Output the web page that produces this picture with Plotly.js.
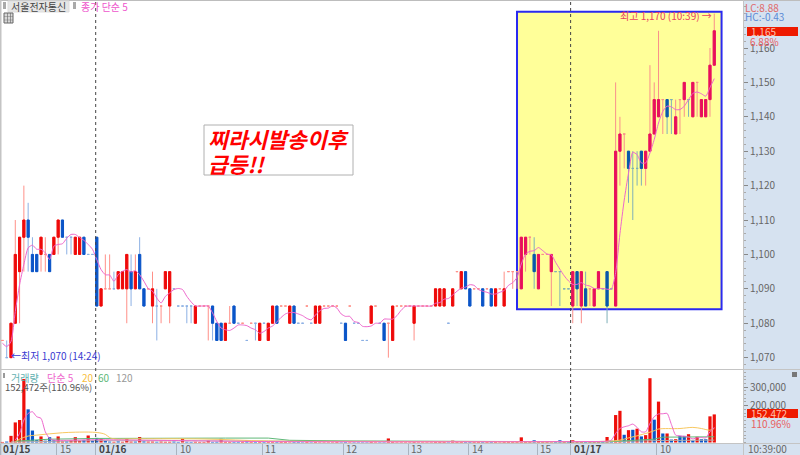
<!DOCTYPE html>
<html><head><meta charset="utf-8">
<script src="https://cdn.plot.ly/plotly-3.0.1.min.js"></script>
<style>html,body{margin:0;padding:0;background:#fff;overflow:hidden}#c{width:800px;height:455px}</style>
</head><body><div id="c"></div>
<script>
const firstIndex = -2;
const openP = [1075,1070,
1070,1080,1095,1105,1110,1100,1100,1100,1100,1100,
1100,1105,1110,1105,1105,1100,1100,1105,1100,1100,
1105,1085,1090,1090,1090,1090,1090,1090,1095,1090,
1100,1090,1090,1085,1085,1085,1090,1085,1090,1085,
1085,1085,1085,1080,1085,1085,1085,1085,1080,1080,
1075,1080,1085,1080,1080,1075,1080,1080,1075,1080,
1075,1080,1085,1085,1085,1080,1085,1080,1080,1085,
1080,1080,1080,1085,1085,1085,1085,1080,1080,1085,
1080,1080,1075,1075,1080,1085,1080,1080,1080,1075,
1085,1085,1085,1085,1080,1085,1085,1085,1085,1085,
1085,1085,1080,1085,1095,1090,1095,1090,1090,1090,
1090,1090,1090,1085,1090,1085,1095,1095,1095,1090,
1100,1105,1100,1090,1100,1100,1095,1095,1095,1090,
1090,1085,1095,1085,1090,1090,1085,1090,1090,1095,
1090,1085,1130,1135,1130,1125,1125,1130,1125,1130,
1135,1140,1145,1145,1145,1135,1145,1145,1145,1140,
1150,1140,1140,1145,1155];
const highP = [1075,1075,
1080,1110,1105,1120,1115,1105,1100,1105,1105,1100,
1105,1110,1110,1105,1105,1105,1105,1105,1100,1100,
1105,1090,1100,1100,1095,1095,1095,1100,1100,1100,
1105,1090,1090,1095,1090,1085,1095,1095,1090,1085,
1085,1085,1085,1085,1085,1085,1085,1085,1080,1080,
1080,1085,1085,1080,1080,1075,1080,1080,1080,1080,
1080,1085,1085,1085,1085,1085,1085,1080,1080,1085,
1080,1085,1085,1085,1085,1085,1085,1080,1080,1085,
1080,1080,1075,1075,1085,1085,1080,1080,1080,1085,
1085,1085,1085,1085,1085,1085,1085,1085,1085,1090,
1090,1090,1080,1090,1095,1095,1095,1090,1090,1090,
1090,1090,1090,1090,1090,1095,1095,1095,1095,1105,
1105,1105,1105,1100,1100,1100,1100,1095,1095,1090,
1090,1095,1095,1095,1095,1090,1090,1095,1090,1095,
1090,1150,1140,1135,1130,1130,1130,1130,1130,1155,
1150,1165,1145,1145,1145,1145,1145,1150,1145,1150,
1150,1145,1145,1160,1170];
const lowP = [1075,1070,
1070,1080,1080,1095,1095,1095,1095,1095,1095,1095,
1100,1100,1105,1100,1100,1100,1100,1100,1100,1100,
1085,1085,1090,1090,1090,1090,1090,1080,1085,1090,
1090,1085,1090,1080,1075,1080,1090,1080,1090,1085,
1085,1080,1080,1080,1085,1085,1075,1075,1075,1075,
1075,1080,1080,1080,1080,1075,1080,1075,1075,1080,
1075,1080,1080,1085,1085,1080,1080,1080,1080,1085,
1080,1080,1080,1085,1085,1085,1085,1080,1075,1085,
1080,1080,1075,1075,1080,1085,1080,1075,1070,1075,
1085,1085,1085,1085,1075,1085,1085,1085,1085,1085,
1085,1085,1080,1085,1095,1090,1090,1085,1090,1090,
1085,1090,1085,1085,1090,1085,1095,1090,1090,1090,
1095,1100,1090,1090,1100,1100,1085,1095,1085,1090,
1090,1080,1085,1080,1085,1085,1085,1090,1090,1080,
1090,1085,1120,1125,1115,1110,1120,1120,1120,1130,
1135,1140,1135,1135,1135,1135,1135,1140,1140,1140,
1140,1140,1140,1140,1155];
const closeP = [1075,1070,
1080,1100,1105,1110,1105,1095,1095,1105,1100,1095,
1105,1110,1105,1105,1105,1105,1105,1100,1100,1100,
1085,1090,1090,1090,1090,1095,1095,1100,1090,1095,
1090,1085,1090,1090,1085,1085,1095,1095,1090,1085,
1085,1085,1085,1085,1085,1085,1085,1080,1075,1075,
1080,1080,1080,1080,1080,1075,1080,1080,1080,1080,
1080,1085,1080,1085,1085,1085,1080,1080,1080,1085,
1080,1085,1085,1085,1085,1085,1085,1080,1075,1085,
1080,1080,1075,1075,1085,1085,1080,1075,1080,1085,
1085,1085,1085,1085,1085,1085,1085,1085,1085,1090,
1090,1090,1080,1090,1095,1095,1090,1085,1090,1090,
1085,1090,1085,1090,1090,1090,1095,1095,1095,1105,
1105,1105,1095,1100,1100,1100,1100,1095,1095,1090,
1090,1095,1090,1095,1085,1090,1090,1095,1090,1085,
1090,1130,1135,1135,1125,1125,1125,1125,1130,1135,
1145,1145,1145,1140,1145,1140,1145,1150,1145,1150,
1150,1145,1145,1155,1165];
const candleDir = ["rb",
"rrrrbbbrrb","rrbbbrrbbb","brrrbrrrbr","bbrrbrrrbb","bbbrrrrbbb",
"rrbbrbrbrb","rrbrrrbbbr","brrrrrrbbr","bbbbrrbbrr","rrrrrrrrrr",
"rrbrrrbbrr","brbrrrrrrr","rrbrrrrbbb","brbrbrrrbb","brrrbbbbrr",
"rrrbbrrrbr","rrrrr"].join("");
const priceMA = [1074.2,1073.2,
1074.7,1083.4,1091.2,1097.1,1101.9,1102.7,1101.5,1101.5,1100.5,1098.5,
1102.4,1102.9,1103.1,1104.7,1105.8,1105.8,1104.9,1104.1,1102.9,1101.5,
1098.5,1095.6,1094.1,1094,1092.2,1094.1,1095.1,1095.6,1094.9,1095.3,
1094.1,1092.2,1090.1,1089.3,1087.3,1085.9,1087.8,1088.8,1089.8,1090.1,
1089.8,1087.8,1086.2,1085,1085,1085,1085,1083,1080.5,1078.6,
1078.1,1077.9,1078.6,1079.5,1079.5,1079.3,1078.6,1078.1,1077.1,1077.6,
1078.6,1079.2,1080.4,1081.7,1082.7,1083.1,1083.1,1082.7,1082.2,1081.4,
1081,1082.4,1083.6,1084.3,1084.4,1085.1,1084.4,1082.7,1082,1082,
1080.5,1080.2,1079.1,1079,1079.2,1080,1080,1081.2,1081.2,1081.2,
1082.2,1083.8,1084.9,1085,1085,1085,1085,1085,1085,1085.8,
1086,1087,1087.2,1088.2,1089.3,1090.2,1090.5,1091.2,1091,1089.8,
1089.3,1089,1088.5,1088.5,1089,1089.5,1091,1091.8,1093.3,1097.2,
1100.1,1100.9,1101.1,1102,1101.1,1100.1,1099.9,1097.7,1095.7,1093.8,
1092.3,1091.3,1091.3,1091.8,1091.1,1090.8,1090.1,1090.1,1090.1,1089.9,
1089.9,1094.7,1106,1115.8,1123.6,1129.7,1129,1126.6,1126.6,1129.5,
1133.4,1138.2,1141.6,1143.1,1142.9,1142.1,1142.1,1143.1,1145,1146.8,
1147.2,1146.7,1146,1148.5,1151.1];
const volume = [3000,5000,
36000,109000,122000,345000,180000,65000,13000,33000,10000,29000,
12000,33000,6000,6000,12000,29000,10000,14000,38000,10000,
25000,20000,10000,5000,4000,6000,4000,20000,5000,5000,
30000,6000,5000,5000,4000,5000,4000,4000,5000,3000,
20000,4000,3000,4000,3000,3000,10000,3000,4000,20000,
4000,3000,3000,3000,4000,12000,3000,4000,3000,3000,
4000,3000,3000,3000,3000,2000,3000,3000,2000,3000,
2000,3000,2000,2000,2000,2000,3000,2000,3000,2000,
2000,2000,2000,2000,3000,2000,2000,2000,22000,3000,
2000,2000,2000,2000,3000,2000,2000,2000,2000,3000,
3000,3000,2000,10000,3000,3000,4000,4000,3000,3000,
4000,3000,3000,3000,2000,3000,3000,3000,3000,28000,
3000,3000,12000,3000,3000,3000,2000,3000,12000,3000,
3000,12000,3000,3000,3000,3000,3000,3000,3000,30000,
10000,149000,172000,42000,67000,69000,75000,33000,40000,349000,
124000,222000,49000,49000,16000,18000,36000,36000,45000,11000,
31000,18000,18000,142000,152472];
const volDir = ["rb",
"rrrrbbbrbb","brrbrrrbrb","brbbrbrrrb","rbrrbrrrbb","rbbrrrrbbr",
"rrbbrbrbrb","rrbrrrbbbr","brrrrrrbbr","bbbbrrbbrr","rrrrrrrrrr",
"rrbrrrbbrr","brbrrrrrrr","rrbrrrrbbr","brrrbrrrbr","brrbrbrbrr",
"brbrbrbbrb","rbbrr"].join("");
const volMA5X = [1,2,3,4,5,6,7,8,9,10,20,60,100,130,139,140,141,142,143,144,145,146,147,148,149,150,151,152,153,154,155,156,157,158,159,160,161,162,163,164];
const volMA5Y = [13000,49000,122000,158000,167000,140000,131000,58000,22000,13000,15000,5000,4000,5000,7000,13000,49000,76000,85000,91000,100000,82000,58000,58000,104000,140000,155000,156000,158000,98000,40000,36000,33000,29000,20000,25000,27000,25000,58000,82000];
const volMA20X = [1,2,4,6,9,12,15,19,21,22,23,24,30,45,60,80,100,130,139,142,144,146,148,150,151,156,159,161,163,164];
const volMA20Y = [3000,18000,35000,40000,47000,53000,56000,56000,51000,44000,27000,20000,20000,19000,8000,6000,5000,5000,7000,13000,25000,36000,49000,64000,73000,76000,82000,76000,67000,76000];
const volMA60X = [1,9,20,30,50,60,63,65,80,100,130,139,150,152,164];
const volMA60Y = [7000,18000,22000,24000,24000,24000,16000,12000,8000,6000,4000,4000,18000,29000,31000];
const volMA120X = [0,20,60,100,139,152,164];
const volMA120Y = [3000,10000,8000,5000,4000,11000,13000];
const priceTicks = [1070,1080,1090,1100,1110,1120,1130,1140,1150,1160];
const priceTickText = ["1,070","1,080","1,090","1,100","1,110","1,120","1,130","1,140","1,150","1,160"];
const volTicks = [200000,300000];
const volTickText = ["200,000","300,000"];
const timeTickPos = [-2.5,10.66,19.75,38.65,58.6,77.5,92.65,106.7,122.7,130.5,150.6];
const timeTickText = ["01/15","15","01/16","10","11","12","13","14","15","01/17","10"];
const dayMarkers = [19.75,130.5];

const W=800,H=455;
const fx=p=>p/W, fy=p=>1-p/H;
const FONT='"Noto Sans CJK KR","Noto Sans",sans-serif';
const boxFrom=118;
const idx=openP.map((_,i)=>i+firstIndex);

function candles(inBox,dirChar,wickCol,bodyCol){
  const sel=idx.map((_,i)=>i).filter(i=>candleDir[i]===dirChar && ((idx[i]>=boxFrom)===inBox));
  const base={type:'candlestick',xaxis:'x',yaxis:'y',hoverinfo:'skip',showlegend:false,whiskerwidth:0};
  const wick=Object.assign({},base,{x:sel.map(i=>idx[i]),open:sel.map(i=>openP[i]),high:sel.map(i=>highP[i]),low:sel.map(i=>lowP[i]),close:sel.map(i=>closeP[i]),
    increasing:{line:{color:wickCol,width:1},fillcolor:wickCol},decreasing:{line:{color:wickCol,width:1},fillcolor:wickCol}});
  const b=sel.filter(i=>openP[i]!==closeP[i]);
  const body=Object.assign({},base,{x:b.map(i=>idx[i]),open:b.map(i=>openP[i]),close:b.map(i=>closeP[i]),
    high:b.map(i=>Math.max(openP[i],closeP[i])),low:b.map(i=>Math.min(openP[i],closeP[i])),
    increasing:{line:{color:bodyCol,width:1},fillcolor:bodyCol},decreasing:{line:{color:bodyCol,width:1},fillcolor:bodyCol}});
  return [wick,body];
}
const traces=[].concat(
  candles(false,'r','#ff9088','#ee0a0a'),
  candles(false,'b','#8cb0e4','#0b55c8'),
  candles(true,'r','#f9908c','#e8105c'),
  candles(true,'b','#7fb0b8','#0a58aa'),
  [{type:'scatter',mode:'lines',x:idx,y:priceMA,xaxis:'x',yaxis:'y',line:{color:'#ee66cc',width:1,shape:'spline',smoothing:0.6},hoverinfo:'skip',showlegend:false},
   {type:'bar',x:idx,y:volume,xaxis:'x2',yaxis:'y2',width:0.75,marker:{color:volDir.split('').map(d=>d==='r'?'#ee0f0a':'#0b55c8'),line:{width:0}},hoverinfo:'skip',showlegend:false},
   {type:'scatter',mode:'lines',x:volMA120X,y:volMA120Y,xaxis:'x2',yaxis:'y2',line:{color:'#b0b0b0',width:1},hoverinfo:'skip',showlegend:false},
   {type:'scatter',mode:'lines',x:volMA60X,y:volMA60Y,xaxis:'x2',yaxis:'y2',line:{color:'#5fb878',width:1},hoverinfo:'skip',showlegend:false},
   {type:'scatter',mode:'lines',x:volMA20X,y:volMA20Y,xaxis:'x2',yaxis:'y2',line:{color:'#f8c860',width:1,shape:'spline'},hoverinfo:'skip',showlegend:false},
   {type:'scatter',mode:'lines',x:volMA5X,y:volMA5Y,xaxis:'x2',yaxis:'y2',line:{color:'#ee66cc',width:1,shape:'spline',smoothing:0.6},hoverinfo:'skip',showlegend:false}]
);
const paperRect=(x0,y0,x1,y1,fill,line,layer)=>({type:'rect',xref:'paper',yref:'paper',x0:fx(x0),x1:fx(x1),y0:fy(y0),y1:fy(y1),fillcolor:fill,line:line||{width:0},layer:layer||'below'});
const shapes=[
  paperRect(743,0,800,455,'#d6e2f0'),
  paperRect(0,443,743,455,'#d6e2f0'),
  paperRect(0,0,800,1,'#bdbdbd'),
  paperRect(0,0,1.5,455,'#c4c4c4'),
  paperRect(0,369,800,370,'#c4c4c4'),
  paperRect(0,443,800,444,'#c4c4c4'),
  paperRect(743,0,744,455,'#c4c4c4'),
  {type:'rect',xref:'x',yref:'y',x0:118,x1:165.7,y0:1084.1,y1:1170.55,fillcolor:'#ffff99',line:{color:'#2a2af0',width:2},layer:'below'},
  paperRect(3,2,6,9,'#aaaaaa',null,'above'),
  paperRect(8,1,69,12,'#e6e6e6',{color:'#dddddd',width:1}),
  paperRect(73,2,76,9,'#aaaaaa',null,'above'),
  paperRect(4,13,13,23,'#d8d8d8',{color:'#666666',width:1}),
  paperRect(4,16.3,13,16.7,'#666666',null,'above'),
  paperRect(4,19.8,13,20.2,'#666666',null,'above'),
  paperRect(7.2,13,7.8,23,'#666666',null,'above'),
  paperRect(10.2,13,10.8,23,'#666666',null,'above'),
  paperRect(3,373,5,378,'#9a9a9a',null,'above'),
  paperRect(792,372,797,377,'#777777',null,'above'),
  paperRect(747,27,798,36,'#ee1a00',null,'above'),
  paperRect(747,409,798,418,'#ee1a00',null,'above'),
  paperRect(204,125,353,175,'#ffffff',{color:'#b0b0b0',width:1},'above')
].concat(dayMarkers.map(d=>({type:'line',xref:'x',yref:'paper',x0:d,x1:d,y0:fy(443),y1:1,line:{color:'#444444',width:1,dash:'dot'},layer:'above'})));

const txt=(x,y,text,color,size,anchor)=>({xref:'paper',yref:'paper',x:fx(x),y:fy(y),text,showarrow:false,xanchor:anchor||'left',yanchor:'middle',borderpad:0,font:{family:FONT,size:size||10,color}});
const annotations=[
  txt(10,7,'서울전자통신','#444444',10),
  txt(80,7,'종가 단순 5','#ee55cc',10),
  txt(10,377,'거래량','#5fb0b0',10),
  txt(46,377,'단순 5','#ee66cc',10),
  txt(81,377,'20','#f8c040',10),
  txt(97,377,'60','#60b878',10),
  txt(115,377,'120','#999999',10),
  txt(4,387,'152,472주(110.96%)','#555555',9.5),
  txt(744,7.5,'LC:8.88','#e06a6a',10),
  txt(744,17,'HC:-0.43','#5b8bd6',10),
  txt(750,31.5,'1,165','#ffc4b0',10),
  txt(749,41,'6.88%','#e86060',10),
  txt(750,413.5,'152,472','#ffc4b0',10),
  txt(750,423.5,'110.96%','#e86060',10),
  txt(747,448,'10:39:00','#666666',10),
  txt(10,355,'←최저 1,070 (14:24)','#3a3ad0',10),
  txt(713,16,'최고 1,170 (10:39) →','#ea4060',10,'right'),
  txt(207,138,'<b><i>찌라시발송이후</i></b>','#ff0000',21.5),
  txt(207,163,'<b><i>급등!!</i></b>','#ff0000',21.5)
].concat(timeTickPos.map((p,i)=>{
  const strong=timeTickText[i].includes('/');
  return {xref:'x',yref:'paper',x:p,y:fy(448),xshift:2,text:strong?'<b>'+timeTickText[i]+'</b>':timeTickText[i],showarrow:false,xanchor:'left',yanchor:'middle',borderpad:0,font:{family:FONT,size:10,color:strong?'#444444':'#666666'}};
}));

const xRange=[-2.565,170.7];
const layout={
  width:W,height:H,margin:{l:0,r:0,t:0,b:0},paper_bgcolor:'#ffffff',plot_bgcolor:'rgba(0,0,0,0)',showlegend:false,
  boxgap:0.5,boxgroupgap:0,barmode:'overlay',font:{family:FONT,size:10,color:'#666666'},
  xaxis:{domain:[0,743/800],range:xRange,anchor:'y',showticklabels:false,ticks:'',showgrid:false,zeroline:false,showline:false,rangeslider:{visible:false}},
  xaxis2:{domain:[0,743/800],range:xRange,anchor:'y2',showticklabels:false,showgrid:false,zeroline:false,showline:false,tickmode:'array',tickvals:timeTickPos,ticks:'outside',ticklen:12,tickcolor:'#aab4c0',tickwidth:1,rangeslider:{visible:false}},
  yaxis:{domain:[1-369/455,1],range:[1066.7,1173.95],anchor:'x',side:'right',tickmode:'array',tickvals:priceTicks,ticktext:priceTickText,ticks:'outside',ticklen:4,tickcolor:'#888888',showgrid:false,zeroline:false,showline:false,tickfont:{family:FONT,size:10,color:'#666666'},
    minor:{tickmode:'linear',dtick:2,ticks:'outside',ticklen:2,tickcolor:'#aaaaaa',showgrid:false}},
  yaxis2:{domain:[12/455,1-369/455],range:[-2700,399000],anchor:'x2',side:'right',tickmode:'array',tickvals:volTicks,ticktext:volTickText,ticks:'outside',ticklen:4,tickcolor:'#888888',showgrid:false,zeroline:false,showline:false,tickfont:{family:FONT,size:10,color:'#666666'},
    minor:{tickmode:'linear',dtick:20000,ticks:'outside',ticklen:2,tickcolor:'#aaaaaa',showgrid:false}},
  shapes,annotations
};
Plotly.newPlot('c',traces,layout,{displayModeBar:false,staticPlot:true});
</script></body></html>
